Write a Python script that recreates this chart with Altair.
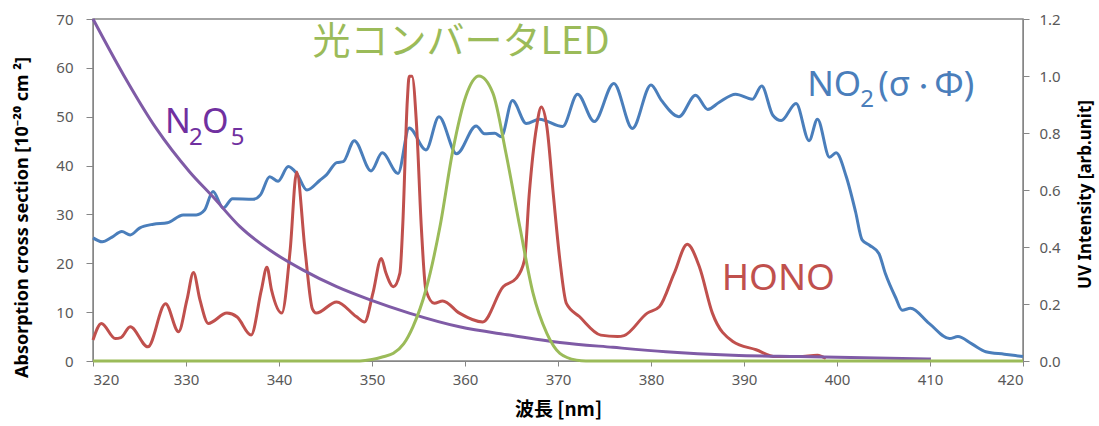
import altair as alt
import pandas as pd

# ---- data ----
no2_wl = [320, 321, 322, 323.1, 324, 325, 326.5, 328, 329.7, 331.1, 332, 332.9, 334, 335,
          337.2, 338, 339, 339.9, 341, 341.9, 343, 344.4, 345.1, 346.2, 346.9, 348.1, 349.9,
          351.1, 352.8, 354, 355.8, 357.2, 359.1, 361.2, 362.1, 363.2, 363.9, 365.1, 366.6,
          368, 370.5, 372.1, 373.9, 376, 378, 380, 381.1, 383, 384.8, 386.1, 387.3, 389.1,
          390.9, 391.9, 393.1, 394, 395.6, 397, 397.9, 399.2, 399.9, 401, 402, 402.7, 403.5,
          404.5, 405.2, 406.3, 407, 407.9, 409.9, 412.1, 413, 414.5, 416, 418, 420]
no2_val = [25.2, 24.4, 25.3, 26.5, 25.8, 27.2, 28.0, 28.3, 29.9, 29.9, 30.9, 34.7, 31.3, 33.2,
           33.1, 34.0, 37.7, 36.8, 39.8, 38.4, 35.0, 37.0, 38.1, 40.6, 40.8, 45.1, 38.9,
           42.6, 38.4, 47.7, 43.2, 50.0, 42.4, 48.1, 46.5, 46.6, 45.9, 53.3, 48.6,
           49.5, 48.0, 54.6, 49.0, 56.8, 47.6, 56.5, 53.4, 50.0, 54.4, 51.5, 52.9, 54.6,
           53.6, 56.3, 50.3, 49.2, 52.7, 45.1, 49.5, 41.7, 42.6, 37.7, 30.5, 24.8, 23.7,
           22.0, 17.9, 13.0, 10.4, 10.8, 7.7, 4.6, 5.0, 3.5, 1.9, 1.4, 0.9]

hono_wl = [320, 320.9, 322.4, 323, 324, 325.9, 327.8, 329.2, 330.1, 330.8, 331.5, 332.4,
           334.4, 335.5, 337, 338.1, 338.7, 339.2, 340.3, 341.2, 341.9, 342.8, 343.6, 344,
           346.2, 348.3, 349.2, 350.1, 351, 351.5, 352.3, 353, 353.3, 353.8, 354.0, 354.3,
           354.8, 355.3, 355.8, 356.7, 357.6, 359.4, 361.9, 364.1, 365.5, 366.4, 366.9,
           367.7, 368.2, 368.8, 369.5, 370.2, 370.9, 372.3, 374.6, 376.4, 377.1, 379.6,
           380.9, 382.5, 383.9, 385.2, 386.6, 388.8, 391.3, 393.4, 395.9, 397.9, 398.8]
hono_val = [4.3, 7.7, 4.6, 4.8, 7.0, 2.9, 11.7, 6.0, 12.5, 18.1, 12.5, 7.7,
            9.8, 9.0, 5.3, 14.5, 19.2, 14.5, 9.8, 22.7, 38.7, 22.7, 10.6, 9.8,
            12.1, 9.1, 8.0, 13.9, 21.0, 18.0, 15.2, 18.0, 27.5, 53.4, 58.3, 58.3,
            48.0, 27.5, 14.5, 11.8, 12.3, 9.8, 8.0, 15.2, 16.9, 20.7, 34.0,
            48.0, 52.0, 48.0, 34.0, 20.7, 11.8, 9.1, 5.3, 5.0, 5.2, 9.8,
            11.1, 18.0, 23.9, 19.3, 9.8, 4.0, 2.3, 0.9, 0.9, 1.2, 0.5]

n2o5_wl = [320, 323.3, 326.8, 330.4, 332.9, 335.8, 339, 342.6, 346.2, 349.8, 354, 359.4,
           364.8, 370.2, 375.9, 381.6, 388.8, 395.9, 410.1]
n2o5_val = [70, 58.5, 47.6, 38.7, 33.6, 27.5, 22.7, 18.6, 15.2, 12.5, 9.8, 7.0,
            5.3, 3.8, 2.8, 1.9, 1.2, 0.9, 0.4]

led_wl = [320, 348.7, 350, 351.2, 352.3, 353.4, 354.4, 355.8, 357.3, 358.7, 360.1, 361.5,
          363, 364.4, 365.9, 367.3, 368.8, 370.2, 372, 373, 420]
led_val = [0, 0, 0.005, 0.015, 0.027, 0.06, 0.12, 0.25, 0.47, 0.74, 0.93, 1.0,
           0.94, 0.73, 0.47, 0.24, 0.097, 0.027, 0.003, 0, 0]

x_ticks = list(range(320, 421, 10))
left_ticks = list(range(0, 71, 10))
right_ticks = [0, 0.2, 0.4, 0.6, 0.8, 1.0, 1.2]

BLUE = "#4A7EBB"
RED = "#C0504D"
PURPLE = "#7F5BA6"
GREEN = "#9BBB59"
GREY = "#868686"
LABEL = "#595959"

df_no2 = pd.DataFrame({"wl": no2_wl, "v": no2_val})
df_hono = pd.DataFrame({"wl": hono_wl, "v": hono_val})
df_n2o5 = pd.DataFrame({"wl": n2o5_wl, "v": n2o5_val})
df_led = pd.DataFrame({"wl": led_wl, "v": led_val})

x_enc = alt.X(
    "wl:Q",
    scale=alt.Scale(domain=[320, 420], nice=False, zero=False),
    axis=alt.Axis(
        values=x_ticks, grid=False, tickSize=5, labelPadding=6, labelFontSize=15,
        labelColor=LABEL, domainColor=GREY, tickColor=GREY,
        title="波長 [nm]", titleFont="Noto Sans CJK JP", titleFontSize=19,
        titleFontWeight="bold", titleColor="#000000", titleY=48, titleBaseline="middle",
    ),
)

y_left = alt.Y(
    "v:Q",
    scale=alt.Scale(domain=[0, 70], nice=False),
    axis=alt.Axis(
        values=left_ticks, grid=False, tickSize=7, labelPadding=13, labelFontSize=15,
        labelColor=LABEL, domainColor=GREY, tickColor=GREY,
        title="Absorption cross section  [10⁻²⁰ cm ²]", titleFontSize=18,
        titleFontWeight="bold", titleColor="#000000", titleAngle=270,
        titleX=-71, titleY=198, titleAlign="center", titleBaseline="middle",
    ),
)


def line(df, color):
    return alt.Chart(df).mark_line(
        color=color, strokeWidth=3, interpolate="monotone"
    ).encode(x=x_enc, y=y_left)


def label(text, x, y, color, size=36, font="Noto Sans", align="left", baseline="alphabetic"):
    return alt.Chart(alt.Data(values=[{}])).mark_text(
        text=text, color=color, fontSize=size, font=font, align=align,
        baseline=baseline,
    ).encode(x=alt.datum(x), y=alt.datum(y))


N2O5_C = "#7030A0"
left = alt.layer(
    line(df_no2, BLUE),
    line(df_hono, RED),
    line(df_n2o5, PURPLE),
    label("光コンバータLED", 343.6, 62.8, GREEN, size=38, font="Noto Sans CJK JP"),
    # N2O5 label with subscripts
    label("N", 327.73, 46.66, N2O5_C, size=34),
    label("2", 330.31, 44.2, N2O5_C, size=24),
    label("O", 331.71, 46.66, N2O5_C, size=34),
    label("5", 334.82, 44.2, N2O5_C, size=24),
    # NO2(σ・Φ) label with subscript
    label("NO", 396.80, 54.24, BLUE, size=35),
    label("2", 402.49, 51.99, BLUE, size=24),
    label("(σ", 404.43, 54.24, BLUE, size=35),
    label("・", 409.30, 55.98, BLUE, size=22, font="Noto Sans CJK JP", align="center",
          baseline="middle"),
    label("Φ)", 410.45, 54.24, BLUE, size=35),
    label("HONO", 387.6, 14.5, RED, size=37),
)

right = alt.Chart(df_led).mark_line(
    color=GREEN, strokeWidth=3, interpolate="monotone"
).encode(
    x=x_enc,
    y=alt.Y(
        "v:Q",
        scale=alt.Scale(domain=[0, 1.2], nice=False),
        axis=alt.Axis(
            orient="right", values=right_ticks, format=".1f", grid=False, tickSize=6,
            labelPadding=10, labelFontSize=15, labelColor=LABEL, domainColor=GREY,
            tickColor=GREY, title="UV Intensity [arb.unit]", titleFontSize=17,
            titleFontWeight="bold", titleColor="#000000", titleAngle=270,
            titleX=62, titleY=175, titleAlign="center", titleBaseline="middle",
        ),
    ),
)

chart = alt.layer(left, right).resolve_scale(y="independent").properties(
    width=930,
    height=342,
    autosize=alt.AutoSizeParams(type="none"),
    padding={"left": 93, "top": 19, "right": 76, "bottom": 65},
    background="white",
).configure(font="Noto Sans").configure_view(stroke=GREY, strokeWidth=1.5)

chart.save("out.html", embed_options={"renderer": "svg", "actions": False})
